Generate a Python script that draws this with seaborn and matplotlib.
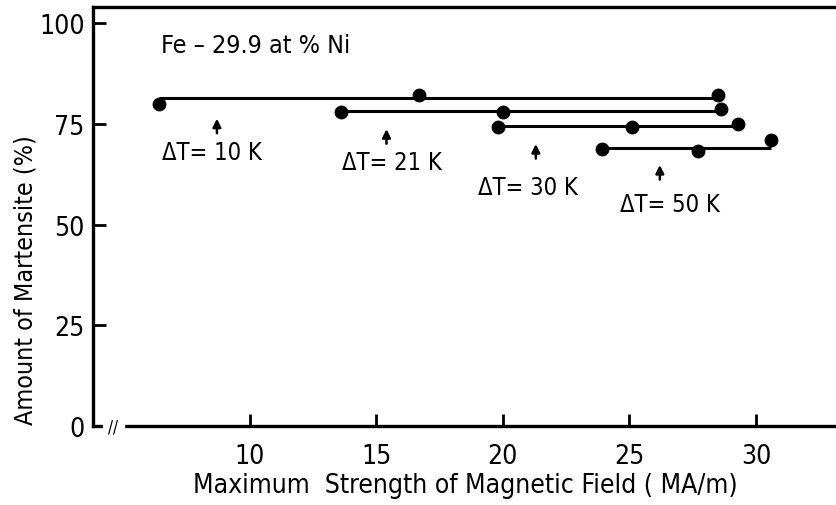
import numpy as np
import matplotlib.pyplot as plt
import seaborn as sns

# Points (x: MA/m, y: % martensite)
dt10_x = [6.4, 16.7, 28.5]
dt10_y = [79.9, 82.1, 82.1]
dt21_x = [13.6, 20.0, 28.6]
dt21_y = [77.9, 77.9, 78.7]
dt30_x = [19.8, 25.1, 29.3]
dt30_y = [74.2, 74.2, 74.9]
dt50_x = [23.9, 27.7, 30.6]
dt50_y = [68.7, 68.2, 71.0]

# level of the horizontal bar drawn for each series
line_levels = [81.4, 78.2, 74.4, 69.0]
series_names = ["\u0394T= 10 K", "\u0394T= 21 K", "\u0394T= 30 K", "\u0394T= 50 K"]

# arrow x, arrow tip y, label position
arrow_x = [8.7, 15.4, 21.3, 26.2]
arrow_tip = [77.0, 74.4, 70.7, 65.5]
label_x = [8.5, 15.6, 21.0, 26.6]
label_y = [68.0, 65.5, 59.3, 55.1]

xticks = [10, 15, 20, 25, 30]
yticks = [0, 25, 50, 75, 100]

sns.set_style("white")
plt.rcParams['font.family'] = ['DejaVu Sans']
plt.rcParams['font.stretch'] = 'condensed'
plt.rcParams['text.color'] = 'black'
plt.rcParams['axes.labelcolor'] = 'black'
plt.rcParams['xtick.color'] = 'black'
plt.rcParams['ytick.color'] = 'black'

fig = plt.figure(figsize=(8.37, 5.06), dpi=100)
ax = fig.add_axes([0.111, 0.156, 0.889, 0.828])

all_x = [dt10_x, dt21_x, dt30_x, dt50_x]
all_y = [dt10_y, dt21_y, dt30_y, dt50_y]

for xs, ys, lvl in zip(all_x, all_y, line_levels):
    ax.hlines(lvl, min(xs), max(xs), color='black', lw=2.2)
    sns.scatterplot(x=xs, y=ys, ax=ax, color='black', s=85, edgecolor='black', zorder=3)

for ax_x, tip, lx, ly, name in zip(arrow_x, arrow_tip, label_x, label_y, series_names):
    ax.annotate("", xy=(ax_x, tip), xytext=(ax_x, tip - 5),
                arrowprops=dict(arrowstyle='-|>', color='black', lw=1.8,
                                mutation_scale=12))
    ax.text(lx, ly, name, ha='center', va='center', fontsize=17)

ax.text(6.5, 94.5, "Fe \u2013 29.9 at % Ni", fontsize=18, ha='left', va='center')

ax.set_xlim(3.8, 33.2)
ax.set_ylim(0, 104)
ax.set_xticks(xticks)
ax.set_yticks(yticks)
ax.tick_params(axis='both', direction='in', length=9, width=2, labelsize=19,
               bottom=True, left=True)
ax.tick_params(axis='x', pad=12)
ax.tick_params(axis='y', pad=6)
for s in ['left', 'bottom', 'top']:
    ax.spines[s].set_linewidth(2.4)
    ax.spines[s].set_color('black')
ax.spines['right'].set_visible(False)

# axis break mark near the origin
ax.text(4.6, 0, "//", fontsize=12, ha='center', va='center',
        backgroundcolor='white')

ax.set_xlabel("Maximum  Strength of Magnetic Field ( MA/m)", fontsize=19, labelpad=2)
ax.set_ylabel("Amount of Martensite (%)", fontsize=18)
ax.yaxis.set_label_coords(-0.074, 0.35)

plt.savefig("out.png", dpi=100)
